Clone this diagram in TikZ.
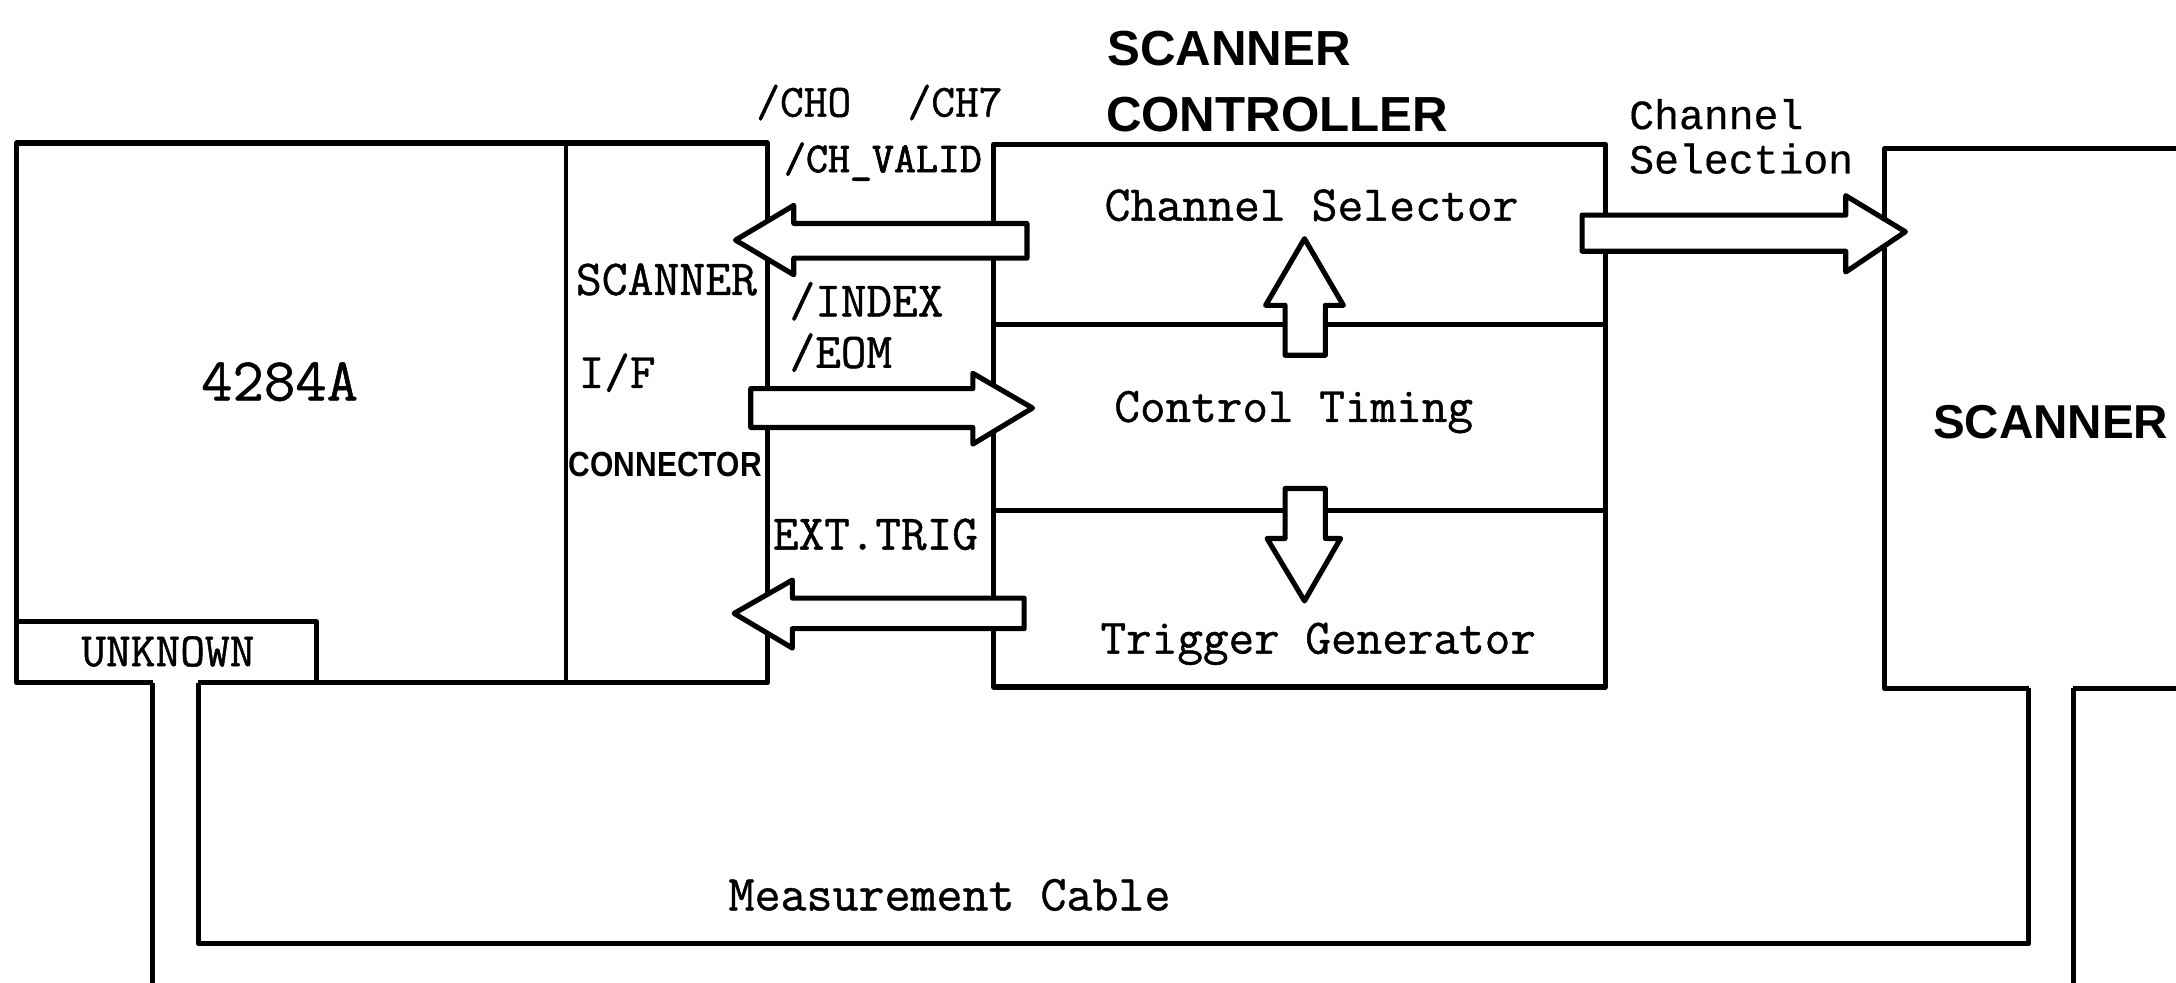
\documentclass[tikz,border=0pt]{standalone}
\usepackage{fontspec}
\setmonofont{Latin Modern Mono}
\newfontfamily\tmono[FakeBold=0.9]{Latin Modern Mono}
\newfontfamily\vmono[FakeBold=1.8]{Latin Modern Mono}
\newfontfamily\cmono[FakeBold=0.4]{Liberation Mono}
\newfontfamily\hsans{Liberation Sans}
\newfontfamily\nsans[FakeStretch=0.86]{Liberation Sans}
\newcommand{\fsz}[1]{\fontsize{#1}{#1}\selectfont}
\begin{document}
\begin{tikzpicture}[x=0.02cm,y=-0.02cm,line join=round,
  ln/.style={draw,line width=2.1pt},
  thin/.style={draw,line width=1.6pt},
  barrow/.style={draw,fill=white,line width=2.1pt,line join=round},
  lbl/.style={inner sep=0pt,outer sep=0pt},
  mono/.style={lbl,font=\tmono\fsz{20.4}},
  big/.style={lbl,font=\hsans\bfseries\fsz{20.2}}]
\useasboundingbox (0,0) rectangle (1568,708);

% ---- 4284A / scanner I/F box
\coordinate (cabL1) at (110,492);
\coordinate (cabL2) at (143,492);
\coordinate (cabR1) at (1462,496);
\coordinate (cabR2) at (1494,496);
\path[ln] (cabL1) -- (12,492) -- (12,103) -- (553,103) -- (553,492) -- (cabL2);
\path[ln] (12,448) -- (228,448) -- (228,492);
\path[thin] (408,103) -- (408,492);

% ---- measurement cable
\path[ln] (cabL1) -- (110,712);
\path[ln] (cabL2) -- (143,680) -- (1462,680) -- (cabR1);
\path[ln] (cabR2) -- (1494,712);

% ---- scanner controller
\node[ln,lbl,minimum width=441*0.02cm,minimum height=130*0.02cm,anchor=north west] (csel) at (716,104) {};
\node[ln,lbl,minimum width=441*0.02cm,minimum height=134*0.02cm,anchor=north west] (ctim) at (716,234) {};
\node[ln,lbl,minimum width=441*0.02cm,minimum height=127*0.02cm,anchor=north west] (tgen) at (716,368) {};

% ---- scanner
\path[ln] (cabR1) -- (1358,496) -- (1358,107) -- (1572,107);
\path[ln] (cabR2) -- (1572,496);

% ---- block arrows
\path[barrow] (740,161) -- (572,161) -- (572,148) -- (530,173) -- (572,198) -- (572,186) -- (740,186) -- cycle;
\path[barrow] (541,280) -- (701,280) -- (701,269) -- (744,294) -- (701,320) -- (701,308) -- (541,308) -- cycle;
\path[barrow] (738,431) -- (571,431) -- (571,418) -- (529,442) -- (571,467) -- (571,453) -- (738,453) -- cycle;
\path[barrow] (926,256) -- (926,220) -- (912,220) -- (940,172) -- (968,220) -- (955,220) -- (955,256) -- cycle;
\path[barrow] (926,352) -- (926,388) -- (913,388) -- (940,433) -- (966,388) -- (955,388) -- (955,352) -- cycle;
\path[barrow] (1140,155) -- (1330,155) -- (1330,141) -- (1373,167) -- (1330,196) -- (1330,181) -- (1140,181) -- cycle;

% ---- texts
\node[lbl,anchor=base,font=\tmono\fsz{25}] (t4284) at (201.5,288.5) {4284A};
\node[lbl,anchor=base west,font=\tmono\fsz{20.6}] (tscan) at (415,212.5) {SCANNER};
\node[mono,anchor=base west] (tif) at (417,279.5) {I/F};
\node[lbl,anchor=base west,font=\nsans\bfseries\fsz{14.3}] (tconn) at (410,343) {CONNECTOR};
\node[lbl,anchor=base,font=\tmono\fsz{19.7}] (tunk) at (121,480) {UNKNOWN};
\node[lbl,anchor=base west,font=\tmono\fsz{18.9}] (tch0) at (545,84) {/CHO};
\node[lbl,anchor=base west,font=\tmono\fsz{18.9}] (tch7) at (654,84) {/CH7};
\node[lbl,anchor=base west,font=\vmono\fsz{17.5}] (tval) at (565,124) {/CH\_VALID};
\node[mono,anchor=base west] (tidx) at (569,228) {/INDEX};
\node[mono,anchor=base west] (teom) at (569,265) {/EOM};
\node[mono,anchor=base west] (text) at (557,396) {EXT.TRIG};
\node[lbl,anchor=base west,font=\tmono\fsz{20.6}] (tcs) at (796,159) {Channel Selector};
\node[mono,anchor=base west] (tct) at (803,304) {Control Timing};
\node[mono,anchor=base west] (ttg) at (793,471) {Trigger Generator};
\node[lbl,anchor=base west,font=\tmono\fsz{20.7}] (tmc) at (525,656) {Measurement Cable};
\node[lbl,anchor=base west,font=\cmono\fsz{17}] (tchn) at (1174,93) {Channel};
\node[lbl,anchor=base west,font=\cmono\fsz{17}] (tsel) at (1174,125) {Selection};
\node[big,anchor=base west] (tsc1) at (798,47) {SCANNER};
\node[big,anchor=base west] (tsc2) at (797,95) {CONTROLLER};
\node[lbl,anchor=base west,font=\hsans\bfseries\fsz{19.5}] (tscr) at (1393,316) {SCANNER};
\end{tikzpicture}
\end{document}
